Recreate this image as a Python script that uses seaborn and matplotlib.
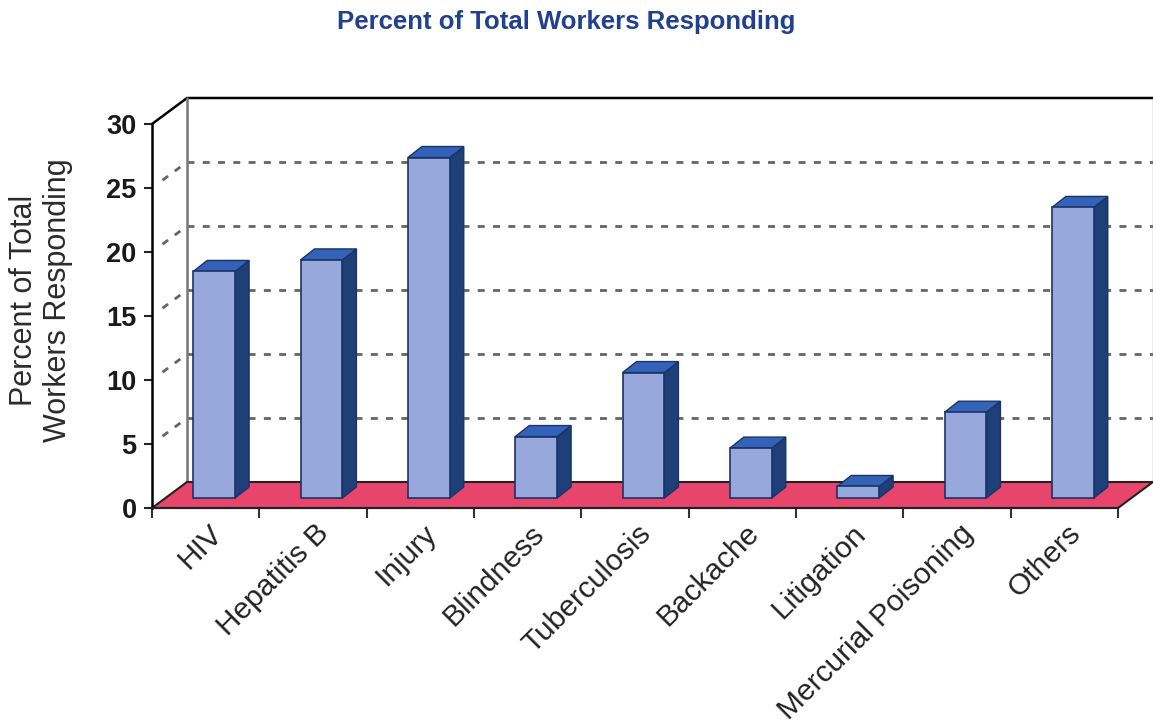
import matplotlib
matplotlib.use("Agg")
import pandas as pd
import matplotlib.pyplot as plt
import matplotlib.transforms as mtransforms
from matplotlib.patches import Polygon
import seaborn as sns

# chart values
categories = ["HIV", "Hepatitis B", "Injury", "Blindness", "Tuberculosis",
              "Backache", "Litigation", "Mercurial Poisoning", "Others"]
percents = [17.7, 18.6, 26.6, 4.8, 9.8, 3.9, 0.9, 6.7, 22.7]
y_ticks = [0, 5, 10, 15, 20, 25, 30]
grid_levels = [5, 10, 15, 20, 25]

df = pd.DataFrame({"issue": categories, "pct": percents})

FRONT = "#97A8DC"
TOP = "#3462B8"
SIDE = "#1E3F78"
EDGE = "#1A3468"
FLOOR = "#E8456C"
NAVY = "#21408F"

sns.set_theme(style="white")
plt.rcParams['font.family'] = ['Liberation Sans', 'DejaVu Sans']

fig = plt.figure(figsize=(11.53, 7.26), dpi=100)
ax = fig.add_axes([152 / 1153, 1 - 508 / 726, 966 / 1153, 384 / 726])
ax.set_facecolor("none")

sns.barplot(data=df, x="issue", y="pct", color=FRONT, width=0.39,
            edgecolor=EDGE, linewidth=1.2, saturation=1, ax=ax)
ax.set_xlim(-0.5, len(categories) - 0.5)
ax.set_ylim(0, 30)


def px(dx, dy):
    # pixel offset -> data units
    x0, y0 = ax.transData.transform((0, 0))
    a = ax.transData.inverted().transform((x0 + dx, y0 + dy))
    return a[0], a[1]


wx, wy = px(35, 26)      # depth of the box
dx, dy = px(14, 11)      # depth of each bar
left, right = -0.5, len(categories) - 0.5

# back wall
ax.add_patch(Polygon([(left + wx, wy), (right + wx, wy), (right + wx, 30 + wy), (left + wx, 30 + wy)],
                     closed=True, facecolor="white", edgecolor="none", zorder=0.2, clip_on=False))
for v in grid_levels:
    ax.plot([left + wx, right + wx], [v + wy, v + wy], color="#666666", lw=2,
            dashes=(2.5, 3), zorder=0.4, clip_on=False)
    ax.plot([left + 0.3 * wx, left + wx], [v + 0.3 * wy, v + wy], color="#666666", lw=2,
            dashes=(2.5, 3), zorder=0.4, clip_on=False)
ax.plot([left, left + wx, right + wx], [30, 30 + wy, 30 + wy], color="black", lw=1.8,
        zorder=0.5, clip_on=False)
ax.plot([left + wx, left + wx], [wy, 30 + wy], color="#777777", lw=1.8, zorder=0.5, clip_on=False)
ax.plot([right + wx, right + wx], [wy, 30 + wy], color="#999999", lw=1, zorder=0.5, clip_on=False)

# floor
ax.add_patch(Polygon([(left, 0), (right, 0), (right + wx, wy), (left + wx, wy)], closed=True,
                     facecolor=FLOOR, edgecolor="#222222", lw=1.5, zorder=0.8, clip_on=False))

# 3d bars: shift the seaborn bars back a little, add top and side faces
shift = ax.transData + mtransforms.ScaledTranslation(8.5 / 100, 10 / 100, fig.dpi_scale_trans)
for p in list(ax.patches):
    if not isinstance(p, matplotlib.patches.Rectangle):
        continue
    x0, w, h = p.get_x(), p.get_width(), p.get_height()
    p.set_transform(shift)
    p.set_zorder(2.2)
    p.set_clip_on(False)
    side = Polygon([(x0 + w, 0), (x0 + w + dx, dy), (x0 + w + dx, h + dy), (x0 + w, h)], closed=True,
                   facecolor=SIDE, edgecolor=EDGE, lw=1, transform=shift, zorder=2, clip_on=False)
    top = Polygon([(x0, h), (x0 + w, h), (x0 + w + dx, h + dy), (x0 + dx, h + dy)], closed=True,
                  facecolor=TOP, edgecolor=EDGE, lw=1, transform=shift, zorder=2.1, clip_on=False)
    ax.add_patch(side)
    ax.add_patch(top)

# axes and ticks
for s in ["top", "right"]:
    ax.spines[s].set_visible(False)
ax.spines["left"].set_color("black")
ax.spines["left"].set_linewidth(1.8)
ax.spines["left"].set_zorder(3)
ax.spines["bottom"].set_color("#222222")
ax.spines["bottom"].set_linewidth(1.5)
ax.spines["bottom"].set_zorder(3)

ax.set_yticks(y_ticks)
ax.set_yticklabels([str(t) for t in y_ticks], fontsize=19.5, fontweight="bold", color="#1a1a1a")
ax.tick_params(axis="y", direction="out", length=6, width=1.5, color="#222222", pad=5, left=True)

ax.set_xticks(range(len(categories)))
ax.set_xticklabels(categories, fontsize=21.5, rotation=45, ha="right",
                   rotation_mode="anchor", color="#222222")
ax.set_xticks([i - 0.5 for i in range(len(categories) + 1)], minor=True)
ax.tick_params(axis="x", which="major", length=0, pad=8, bottom=True)
ax.tick_params(axis="x", which="minor", direction="out", length=7, width=1.5,
               color="#333333", bottom=True)
for lbl in ax.get_xticklabels():
    lbl.set_transform(lbl.get_transform() +
                      mtransforms.ScaledTranslation(2 / 100, 0, fig.dpi_scale_trans))

ax.set_xlabel("")
ax.set_ylabel("Percent of Total\nWorkers Responding", fontsize=22, color="#2b2b2b", linespacing=1.2)
ax.yaxis.label.set_va("center")
ax.yaxis.set_label_coords(-0.115, 0.54)

fig.suptitle("Percent of Total Workers Responding", x=0.491, y=0.97, va="center",
             fontsize=18.5, fontweight="bold", color=NAVY)

fig.savefig("out.png", dpi=100)
